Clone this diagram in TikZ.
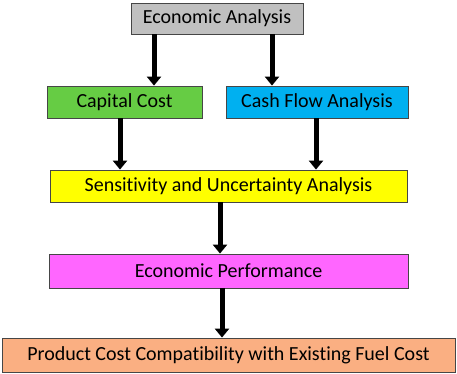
\documentclass[tikz,border=0pt]{standalone}
\usepackage{fontspec}
\setmainfont[Ligatures=NoCommon]{Carlito}
\usetikzlibrary{arrows.meta}
\definecolor{boxgrey}{RGB}{192,192,192}
\definecolor{boxgreen}{RGB}{102,204,68}
\definecolor{boxblue}{RGB}{0,176,240}
\definecolor{boxyellow}{RGB}{255,255,0}
\definecolor{boxpink}{RGB}{255,102,255}
\definecolor{boxpeach}{RGB}{250,175,130}
\definecolor{boxedge}{RGB}{70,70,70}
\tikzset{
  stage/.style={draw=boxedge,line width=0.8pt,minimum height=32pt,inner sep=0pt,font=\fontsize{20}{24}\selectfont},
  flow/.style={line width=5pt,-{Triangle[width=14pt,length=9pt]}}
}
\begin{document}
\begin{tikzpicture}[x=1pt,y=-1pt]
		\useasboundingbox (0,0) rectangle (457,374);
		\node[stage,fill=boxgrey,minimum width=172pt,minimum height=31pt] (ea) at (217,18.5) {Economic Analysis};
		\node[stage,fill=boxgreen,minimum width=155pt] (cc) at (124.5,102) {Capital Cost};
		\node[stage,fill=boxblue,minimum width=182pt] (cf) at (317,102) {Cash Flow Analysis};
		\node[stage,fill=boxyellow,minimum width=357pt] (su) at (228.5,186) {Sensitivity and Uncertainty Analysis};
		\node[stage,fill=boxpink,minimum width=359pt,minimum height=34pt] (ep) at (228.5,271) {Economic Performance};
		\node[stage,fill=boxpeach,minimum width=453pt,minimum height=34pt] (pc) at (228.5,355) {Product Cost Compatibility with Existing Fuel Cost};
		\draw[flow] (ea.south -| 154,0) -- (cc.north -| 154,0);
		\draw[flow] (ea.south -| 272,0) -- (cf.north -| 272,0);
		\draw[flow] (cc.south -| 120,0) -- (su.north -| 120,0);
		\draw[flow] (cf.south -| 316,0) -- (su.north -| 316,0);
		\draw[flow] (su.south -| 220,0) -- (ep.north -| 220,0);
		\draw[flow] (ep.south -| 222,0) -- (pc.north -| 222,0);
\end{tikzpicture}
\end{document}
